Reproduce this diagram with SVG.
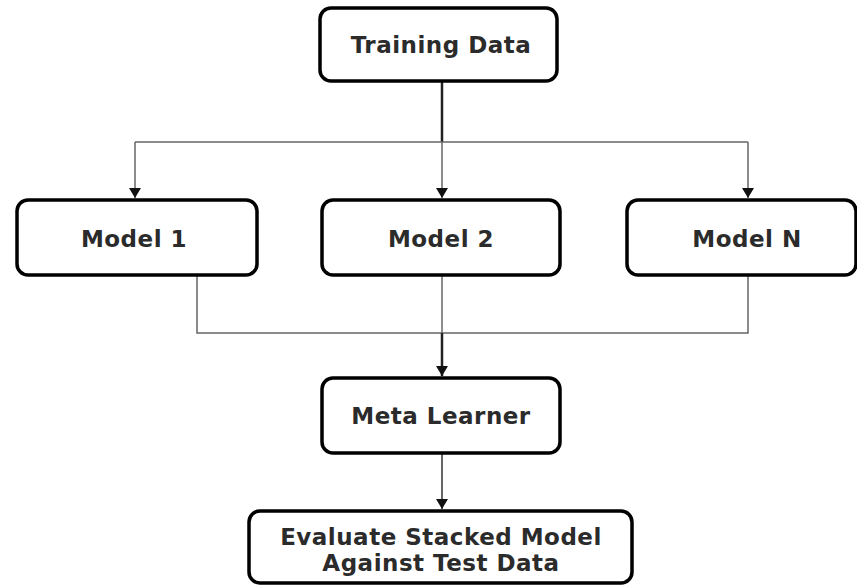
<svg xmlns="http://www.w3.org/2000/svg" width="857" height="586" viewBox="0 0 857 586">
<style>
.box{fill:#fff;stroke:#000;stroke-width:3.5}
.t{font-family:"DejaVu Sans",sans-serif;font-weight:bold;font-size:23px;fill:#2b2b2b;text-anchor:middle;letter-spacing:0.5px}
.c{fill:none;stroke:#666;stroke-width:1.5}
.ck{fill:none;stroke:#222;stroke-width:2.5}
</style>
<defs>
<marker id="ah" viewBox="0 0 10 12" refX="10" refY="6" markerWidth="10" markerHeight="12" markerUnits="userSpaceOnUse" orient="auto">
<path d="M0,0 L10,6 L0,12 z" fill="#111"/>
</marker>
</defs>
<g id="connectors">
<path class="ck" d="M442,82 V142"/>
<path class="c" d="M135,142 H748"/>
<path class="c" d="M135,142 V198" marker-end="url(#ah)"/>
<path class="c" d="M442,142 V198" marker-end="url(#ah)"/>
<path class="c" d="M748,142 V198" marker-end="url(#ah)"/>
<path class="c" d="M197,276 V333 H748 V276"/>
<path class="c" d="M442,276 V333"/>
<path class="ck" d="M442,333 V376" marker-end="url(#ah)"/>
<path class="c" d="M442,454 V509" marker-end="url(#ah)" style="stroke-width:2"/>
</g>
<g id="training-data">
<rect class="box" x="320" y="8" width="237" height="73" rx="11"/>
<text class="t" x="441" y="53">Training Data</text>
</g>
<g id="model-1">
<rect class="box" x="17" y="200" width="240" height="75" rx="11"/>
<text class="t" x="134" y="247">Model 1</text>
</g>
<g id="model-2">
<rect class="box" x="322" y="200" width="238" height="75" rx="11"/>
<text class="t" x="441" y="247">Model 2</text>
</g>
<g id="model-n">
<rect class="box" x="627" y="200" width="229" height="75" rx="11"/>
<text class="t" x="747" y="247">Model N</text>
</g>
<g id="meta-learner">
<rect class="box" x="322" y="378" width="238" height="75" rx="11"/>
<text class="t" x="441" y="424">Meta Learner</text>
</g>
<g id="evaluate">
<rect class="box" x="249" y="511" width="383" height="72" rx="11"/>
<text class="t" x="441" y="545">Evaluate Stacked Model</text>
<text class="t" x="441" y="571">Against Test Data</text>
</g>
</svg>
